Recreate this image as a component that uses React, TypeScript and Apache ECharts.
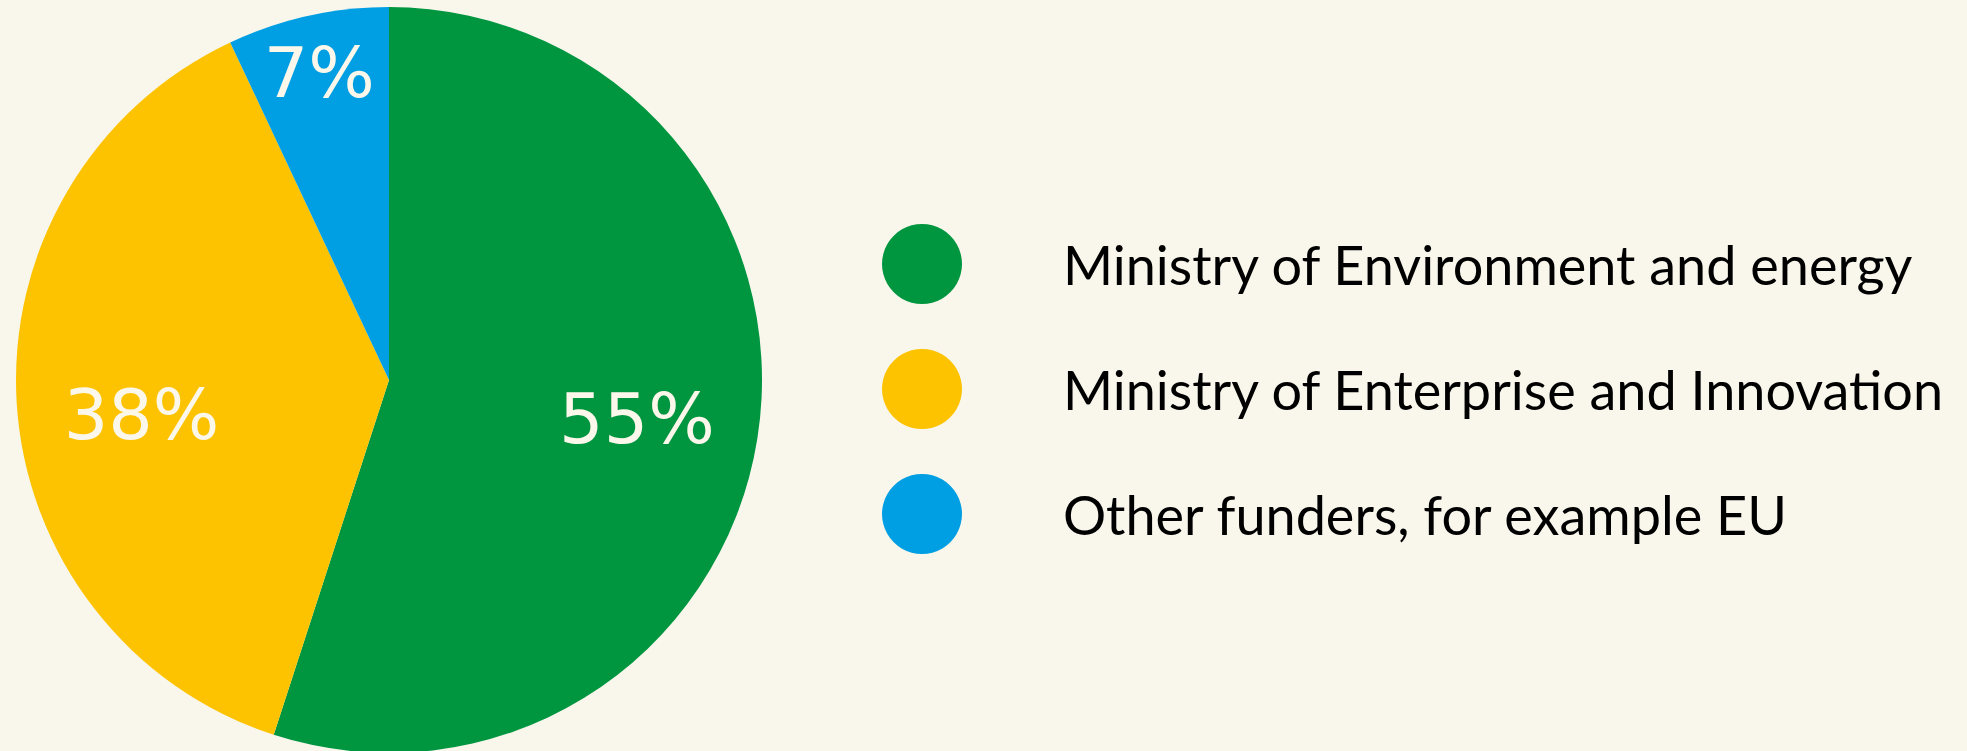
import React, { useEffect, useRef } from "react";
import * as echarts from "echarts";

const categories = [
  "Ministry of Environment and energy",
  "Ministry of Enterprise and Innovation",
  "Other funders, for example EU",
];
const shares = [55, 38, 7];
const sliceColors = ["#009640", "#fdc300", "#009fe3"];

export default function App() {
  const ref = useRef<HTMLDivElement>(null);
  useEffect(() => {
    document.body.style.margin = "0";
    const chart = echarts.init(ref.current!, undefined, { renderer: "svg" });
    const labelOffsets: Array<[number, number] | undefined> = [undefined, [3, 19], [-15, -62]];
    chart.setOption({
      animation: false,
      backgroundColor: "#f9f6ec",
      legend: {
        orient: "vertical",
        left: 877,
        top: 219,
        itemWidth: 80,
        itemHeight: 80,
        itemGap: 45,
        icon: "circle",
        selectedMode: false,
        data: categories.map((n, i) => ({ name: n, itemStyle: { color: sliceColors[i] } })),
        textStyle: {
          fontFamily: "Lato",
          fontSize: 54,
          color: "#000",
          padding: [16, 0, 0, 96],
        },
      },
      series: [
        {
          type: "pie",
          center: [389, 380],
          radius: [0, 373],
          startAngle: 90,
          clockwise: true,
          silent: true,
          label: { show: false },
          labelLine: { show: false },
          data: categories.map((n, i) => ({
            name: n,
            value: shares[i],
            itemStyle: { color: sliceColors[i] },
          })),
        },
        {
          type: "pie",
          center: [389, 380],
          radius: [0, 496],
          startAngle: 90,
          clockwise: true,
          silent: true,
          legendHoverLink: false,
          itemStyle: { color: "rgba(0,0,0,0)" },
          label: {
            show: true,
            position: "inside",
            formatter: "{c}%",
            color: "#fbf7ea",
            fontFamily: "DejaVu Sans",
            fontSize: 70,
            fontWeight: "normal",
          },
          labelLine: { show: false },
          data: categories.map((n, i) => ({
            name: n,
            value: shares[i],
            label: labelOffsets[i] ? { offset: labelOffsets[i] } : undefined,
          })),
        },
      ],
    });
    return () => chart.dispose();
  }, []);
  return <div ref={ref} style={{ width: 1967, height: 751 }} />;
}
